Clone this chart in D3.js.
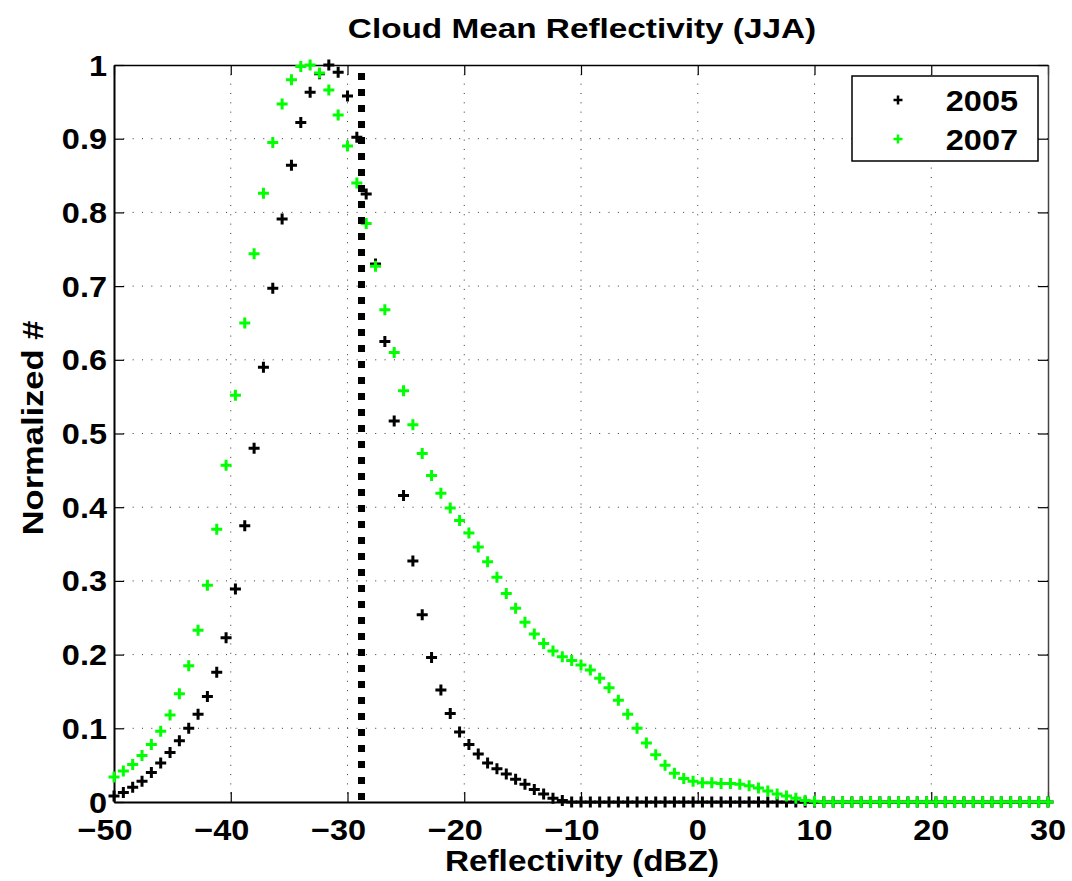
<!DOCTYPE html>
<html>
<head>
<meta charset="utf-8">
<script src="https://cdn.jsdelivr.net/npm/d3@7"></script>
<style>
  html, body { margin: 0; padding: 0; background: #fff; }
  svg { display: block; }
  text { font-family: "Liberation Sans", Arial, Helvetica, sans-serif; font-weight: bold; fill: #000; }
</style>
</head>
<body>
<svg id="chart" width="1072" height="881"></svg>
<script>
// ---- data ----
const xStart = -50;
const xStep = 0.8;
const series2005 = [
  0.008, 0.013, 0.020, 0.028, 0.040, 0.053, 0.067, 0.083, 0.100, 0.119,
  0.143, 0.176, 0.223, 0.289, 0.375, 0.480, 0.590, 0.697, 0.791, 0.864,
  0.922, 0.963, 0.988, 1.000, 0.990, 0.958, 0.902, 0.825, 0.730, 0.625,
  0.517, 0.416, 0.327, 0.254, 0.196, 0.152, 0.120, 0.095, 0.078, 0.065,
  0.053, 0.045, 0.038, 0.031, 0.024, 0.017, 0.011, 0.005, 0.002, 0,
  0, 0, 0, 0, 0, 0, 0, 0, 0, 0,
  0, 0, 0, 0, 0, 0, 0, 0, 0, 0,
  0, 0, 0, 0, 0, 0, 0, 0, 0, 0,
  0, 0, 0, 0, 0, 0, 0, 0, 0, 0,
  0, 0, 0, 0, 0, 0, 0, 0, 0, 0,
  0
];
const series2007 = [
  0.034, 0.042, 0.051, 0.063, 0.078, 0.096, 0.118, 0.147, 0.185, 0.233,
  0.294, 0.370, 0.457, 0.552, 0.650, 0.744, 0.826, 0.895, 0.947, 0.980,
  0.998, 1.000, 0.989, 0.966, 0.932, 0.890, 0.840, 0.785, 0.727, 0.668,
  0.610, 0.558, 0.512, 0.473, 0.443, 0.419, 0.399, 0.382, 0.365, 0.346,
  0.326, 0.305, 0.283, 0.263, 0.244, 0.228, 0.215, 0.205, 0.197, 0.192,
  0.186, 0.179, 0.168, 0.155, 0.138, 0.119, 0.100, 0.080, 0.064, 0.050,
  0.039, 0.032, 0.028, 0.026, 0.026, 0.025, 0.025, 0.024, 0.022, 0.019,
  0.015, 0.011, 0.008, 0.005, 0.002, 0.001, 0, 0, 0, 0,
  0, 0, 0, 0, 0, 0, 0, 0, 0, 0,
  0, 0, 0, 0, 0, 0, 0, 0, 0, 0,
  0
];
const xTicks = [-50, -40, -30, -20, -10, 0, 10, 20, 30];
const yTicks = [0, 0.1, 0.2, 0.3, 0.4, 0.5, 0.6, 0.7, 0.8, 0.9, 1];
const thresholdX = -28.8;
const legendLabels = ["2005", "2007"];
const seriesColors = ["#000000", "#00ff00"];
const titleText = "Cloud Mean Reflectivity (JJA)";
const xLabelText = "Reflectivity (dBZ)";
const yLabelText = "Normalized #";

// ---- layout ----
const svg = d3.select("#chart");
const L = 114, R = 1048, T = 65, B = 802;
const x = d3.scaleLinear().domain([-50, 30]).range([L, R]);
const y = d3.scaleLinear().domain([0, 1]).range([B, T]);

function label(g, px, py, str, size, anchor, sx, rot) {
  let tr = `translate(${px},${py})`;
  if (rot) tr += ` rotate(${rot})`;
  tr += ` scale(${sx},1)`;
  return g.append("text").attr("transform", tr)
    .attr("text-anchor", anchor).style("font-size", size + "px").text(str);
}

// grid
const grid = svg.append("g");
grid.selectAll("line.gx").data(xTicks.slice(1, -1)).join("line")
  .attr("x1", d => x(d)).attr("x2", d => x(d)).attr("y1", T).attr("y2", B)
  .attr("stroke", "#333").attr("stroke-width", 1).attr("stroke-dasharray", "1,8.33");
grid.selectAll("line.gy").data(yTicks.slice(1, -1)).join("line")
  .attr("y1", d => y(d)).attr("y2", d => y(d)).attr("x1", L).attr("x2", R)
  .attr("stroke", "#333").attr("stroke-width", 1).attr("stroke-dasharray", "1,8.33");

// axes with inner ticks (D3 axes, ticks pointing inward)
const fmtY = d => (d === 0 ? "0" : d === 1 ? "1" : d3.format(".1f")(d));
const axB = svg.append("g").attr("transform", `translate(0,${B})`)
  .call(d3.axisBottom(x).tickValues(xTicks).tickSize(-10).tickSizeOuter(0).tickFormat(""));
const axT = svg.append("g").attr("transform", `translate(0,${T})`)
  .call(d3.axisTop(x).tickValues(xTicks).tickSize(-10).tickSizeOuter(0).tickFormat(""));
const axL = svg.append("g").attr("transform", `translate(${L},0)`)
  .call(d3.axisLeft(y).tickValues(yTicks).tickSize(-10).tickSizeOuter(0).tickFormat(""));
const axR = svg.append("g").attr("transform", `translate(${R},0)`)
  .call(d3.axisRight(y).tickValues(yTicks).tickSize(-10).tickSizeOuter(0).tickFormat(""));
[axB, axT, axL, axR].forEach(a => {
  a.select(".domain").attr("stroke", "#000").attr("stroke-width", 2);
  a.selectAll(".tick line").attr("stroke", "#000").attr("stroke-width", 1.2);
});
axT.select(".domain").attr("stroke-width", 1.5);
axR.select(".domain").attr("stroke-width", 1.5).attr("stroke", "#444");

// tick labels
const tl = svg.append("g");
xTicks.forEach(d => {
  const str = d < 0 ? "\u2212" + Math.abs(d) : String(d);
  const dx = d < 0 ? -9 : 0;
  label(tl, x(d) + dx, 840, str, 29, "middle", 1.12);
});
yTicks.forEach(d => {
  label(tl, 107, y(d) + 10.5, fmtY(d), 29, "end", 1.12);
});

// markers
const plus = "M-5.5,0H5.5M0,-5.5V5.5";
const xs = i => xStart + i * xStep;
[series2005, series2007].forEach((s, k) => {
  svg.append("g").selectAll("path").data(s).join("path")
    .attr("d", plus)
    .attr("transform", (v, i) => `translate(${x(xs(i))},${y(v)})`)
    .attr("stroke", seriesColors[k]).attr("stroke-width", 3).attr("fill", "none");
});

// threshold line
svg.append("line")
  .attr("x1", x(thresholdX)).attr("x2", x(thresholdX))
  .attr("y1", T + 8).attr("y2", B)
  .attr("stroke", "#000").attr("stroke-width", 7).attr("stroke-dasharray", "7,9");

// legend
const lg = svg.append("g");
lg.append("rect").attr("x", 852).attr("y", 76).attr("width", 186).attr("height", 85)
  .attr("fill", "#fff").attr("stroke", "#000").attr("stroke-width", 1.5);
legendLabels.forEach((name, k) => {
  const cy = 100 + k * 39;
  lg.append("path").attr("d", "M-4.5,0H4.5M0,-4.5V4.5")
    .attr("transform", `translate(898,${cy})`)
    .attr("stroke", seriesColors[k]).attr("stroke-width", 2.5).attr("fill", "none");
  label(lg, 1018, cy + 11, name, 29, "end", 1.12);
});

// titles
label(svg, 582, 38, titleText, 28, "middle", 1.19);
label(svg, 582, 871, xLabelText, 29, "middle", 1.15);
label(svg, 43, 428, yLabelText, 30, "middle", 1.15, -90);
</script>
</body>
</html>
